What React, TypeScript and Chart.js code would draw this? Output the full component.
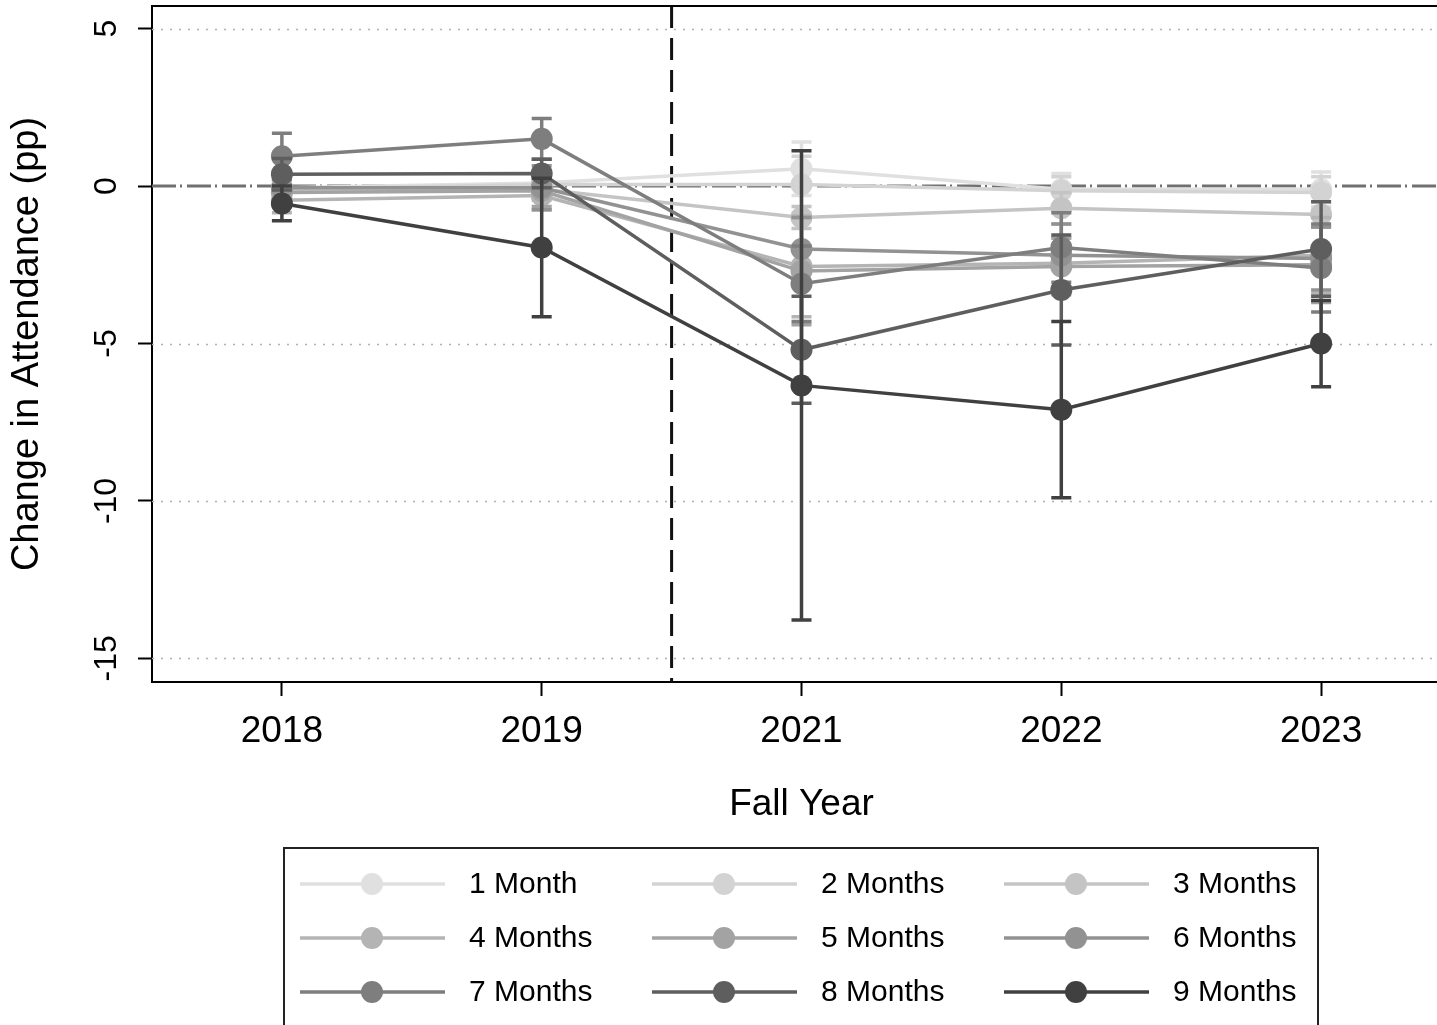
import React, { useEffect, useRef } from "react";
import { Chart, registerables } from "chart.js";

Chart.register(...registerables);

// ---------- data ----------
const years = ["2018", "2019", "2021", "2022", "2023"];
const seriesNames = [
  "1 Month", "2 Months", "3 Months", "4 Months", "5 Months",
  "6 Months", "7 Months", "8 Months", "9 Months",
];
const seriesColors = [
  "#e0e0e0", "#d3d3d3", "#c4c4c4", "#b4b4b4", "#a3a3a3",
  "#929292", "#7e7e7e", "#5e5e5e", "#404040",
];
const m1 = [-0.05, 0.1, 0.55, -0.1, -0.1];
const m2 = [-0.1, 0.05, 0.05, -0.15, -0.2];
const m3 = [-0.15, -0.1, -1.0, -0.7, -0.9];
const m4 = [-0.45, -0.3, -2.55, -2.45, -2.2];
const m5 = [-0.2, -0.15, -2.7, -2.55, -2.5];
const m6 = [-0.05, -0.05, -2.0, -2.2, -2.3];
const m7 = [0.95, 1.5, -3.1, -1.95, -2.6];
const m8 = [0.38, 0.4, -5.2, -3.3, -2.0];
const m9 = [-0.55, -1.95, -6.33, -7.1, -5.0];

// half-widths of the confidence intervals
const e1 = [0.3, 0.3, 0.85, 0.5, 0.55];
const e2 = [0.3, 0.3, 0.9, 0.45, 0.5];
const e3 = [0.35, 0.35, 0.35, 0.5, 0.4];
const e4 = [0.4, 0.45, 1.6, 0.8, 1.2];
const e5 = [0.4, 0.5, 1.7, 0.9, 1.2];
const e6 = [0.5, 0.7, 1.0, 1.0, 1.0];
const e7 = [0.73, 0.65, 1.2, 1.1, 1.4];
const e8 = [0.5, 0.45, 1.7, 1.75, 1.5];
const e9 = [0.55, 2.2, 7.45, 2.8, 1.37];

const seriesValues = [m1, m2, m3, m4, m5, m6, m7, m8, m9];
const seriesErrors = [e1, e2, e3, e4, e5, e6, e7, e8, e9];

const yTicks = [-15, -10, -5, 0, 5];
const covidBreak = 1.5; // between 2019 and 2021

const FONT = "'Liberation Sans', Arial, sans-serif";

export default function App() {
  const ref = useRef<HTMLCanvasElement | null>(null);

  useEffect(() => {
    const canvas = ref.current;
    if (!canvas) return;

    const decorPlugin = {
      id: "decor",
      beforeDatasetsDraw(chart: any) {
        const { ctx, chartArea, scales } = chart;
        const y = scales.y;
        const x = scales.x;
        ctx.save();
        // dotted gridlines
        ctx.strokeStyle = "#b0b0b0";
        ctx.lineWidth = 1.5;
        ctx.setLineDash([2, 7]);
        yTicks.forEach((v) => {
          if (v === 0) return;
          const py = Math.round(y.getPixelForValue(v)) + 0.5;
          ctx.beginPath();
          ctx.moveTo(chartArea.left, py);
          ctx.lineTo(chartArea.right, py);
          ctx.stroke();
        });
        // zero reference line (dash-dot)
        ctx.strokeStyle = "#707070";
        ctx.lineWidth = 3;
        ctx.setLineDash([24, 4, 2, 5]);
        const pz = y.getPixelForValue(0);
        ctx.beginPath();
        ctx.moveTo(chartArea.left, pz);
        ctx.lineTo(chartArea.right, pz);
        ctx.stroke();
        // vertical dashed line
        ctx.strokeStyle = "#111";
        ctx.lineWidth = 3;
        ctx.setLineDash([22, 10]);
        const px = x.getPixelForValue(covidBreak);
        ctx.beginPath();
        ctx.moveTo(px, chartArea.top);
        ctx.lineTo(px, chartArea.bottom);
        ctx.stroke();
        ctx.restore();
      },
      beforeDatasetDraw(chart: any, args: any) {
        const idx = args.index;
        const { ctx, scales } = chart;
        const vals = seriesValues[idx];
        const errs = seriesErrors[idx];
        ctx.save();
        ctx.strokeStyle = seriesColors[idx];
        ctx.lineWidth = 3.5;
        ctx.setLineDash([]);
        vals.forEach((v, i) => {
          const px = scales.x.getPixelForValue(i);
          const top = scales.y.getPixelForValue(v + errs[i]);
          const bot = scales.y.getPixelForValue(v - errs[i]);
          ctx.beginPath();
          ctx.moveTo(px, top);
          ctx.lineTo(px, bot);
          ctx.moveTo(px - 10, top);
          ctx.lineTo(px + 10, top);
          ctx.moveTo(px - 10, bot);
          ctx.lineTo(px + 10, bot);
          ctx.stroke();
        });
        ctx.restore();
      },
      afterDraw(chart: any) {
        const { ctx, chartArea } = chart;
        ctx.save();
        // top frame line
        ctx.strokeStyle = "#000";
        ctx.lineWidth = 2;
        ctx.setLineDash([]);
        ctx.beginPath();
        ctx.moveTo(chartArea.left, chartArea.top);
        ctx.lineTo(chartArea.right, chartArea.top);
        ctx.stroke();
        // legend box
        const bx = 284, by = 848, bw = 1034, bh = 300;
        ctx.strokeStyle = "#222";
        ctx.lineWidth = 2;
        ctx.strokeRect(bx, by, bw, bh);
        const colX = [300, 652, 1004];
        const rowY = [884, 938, 992];
        ctx.font = `30px ${FONT}`;
        ctx.textBaseline = "middle";
        ctx.textAlign = "left";
        seriesNames.forEach((name, i) => {
          const cx = colX[i % 3];
          const cy = rowY[Math.floor(i / 3)];
          ctx.strokeStyle = seriesColors[i];
          ctx.lineWidth = 3.5;
          ctx.beginPath();
          ctx.moveTo(cx, cy);
          ctx.lineTo(cx + 145, cy);
          ctx.stroke();
          ctx.fillStyle = seriesColors[i];
          ctx.beginPath();
          ctx.arc(cx + 72, cy, 11, 0, Math.PI * 2);
          ctx.fill();
          ctx.fillStyle = "#000";
          ctx.fillText(name, cx + 169, cy + 1);
        });
        ctx.restore();
      },
    };

    const datasets = seriesNames.map((name, i) => ({
      label: name,
      data: seriesValues[i].map((v, j) => ({ x: j, y: v })),
      borderColor: seriesColors[i],
      backgroundColor: seriesColors[i],
      pointBackgroundColor: seriesColors[i],
      pointBorderWidth: 0,
      pointRadius: 11,
      pointHoverRadius: 11,
      borderWidth: 3.5,
      tension: 0,
      order: seriesNames.length - i,
    }));

    const chart = new Chart(canvas, {
      type: "line",
      data: { datasets },
      plugins: [decorPlugin],
      options: {
        animation: false,
        responsive: false,
        devicePixelRatio: 1,
        layout: {
          autoPadding: false,
          padding: { top: 6, left: 0, right: 9, bottom: 233 },
        },
        plugins: { legend: { display: false }, tooltip: { enabled: false } },
        scales: {
          x: {
            type: "linear",
            min: -0.5,
            max: 4.5,
            afterBuildTicks: (s: any) => {
              s.ticks = years.map((_, i) => ({ value: i }));
            },
            afterFit: (s: any) => {
              s.height = 145;
              s.paddingLeft = 0;
              s.paddingRight = 0;
            },
            ticks: {
              callback: (v: any) => years[v] ?? "",
              font: { family: FONT, size: 37 },
              color: "#000",
              padding: 14,
              maxRotation: 0,
              autoSkip: false,
            },
            grid: {
              drawOnChartArea: false,
              drawTicks: true,
              tickLength: 14,
              tickColor: "#000",
              tickWidth: 2,
            },
            border: { display: true, color: "#000", width: 2 },
            title: {
              display: true,
              text: "Fall Year",
              font: { family: FONT, size: 37 },
              color: "#000",
              padding: { top: 0, bottom: 0 },
            },
          },
          y: {
            type: "linear",
            min: -15.75,
            max: 5.72,
            afterBuildTicks: (s: any) => {
              s.ticks = yTicks.map((v) => ({ value: v }));
            },
            afterFit: (s: any) => {
              s.width = 152;
              s.paddingTop = 0;
              s.paddingBottom = 0;
            },
            ticks: {
              font: { family: FONT, size: 32 },
              color: "#000",
              padding: 8,
              minRotation: 90,
              maxRotation: 90,
              crossAlign: "center",
              autoSkip: false,
            },
            grid: {
              drawOnChartArea: false,
              drawTicks: true,
              tickLength: 14,
              tickColor: "#000",
              tickWidth: 2,
            },
            border: { display: true, color: "#000", width: 2 },
            title: {
              display: true,
              text: "Change in Attendance (pp)",
              font: { family: FONT, size: 38 },
              color: "#000",
              padding: { top: 5, bottom: 0 },
            },
          },
        },
      },
    });

    return () => chart.destroy();
  }, []);

  return (
    <div
      style={{
        position: "fixed",
        left: 0,
        top: 0,
        width: 1437,
        height: 1025,
        overflow: "hidden",
        background: "#fff",
      }}
    >
      <canvas
        ref={ref}
        width={1460}
        height={1060}
        style={{ width: 1460, height: 1060, display: "block" }}
      />
    </div>
  );
}
